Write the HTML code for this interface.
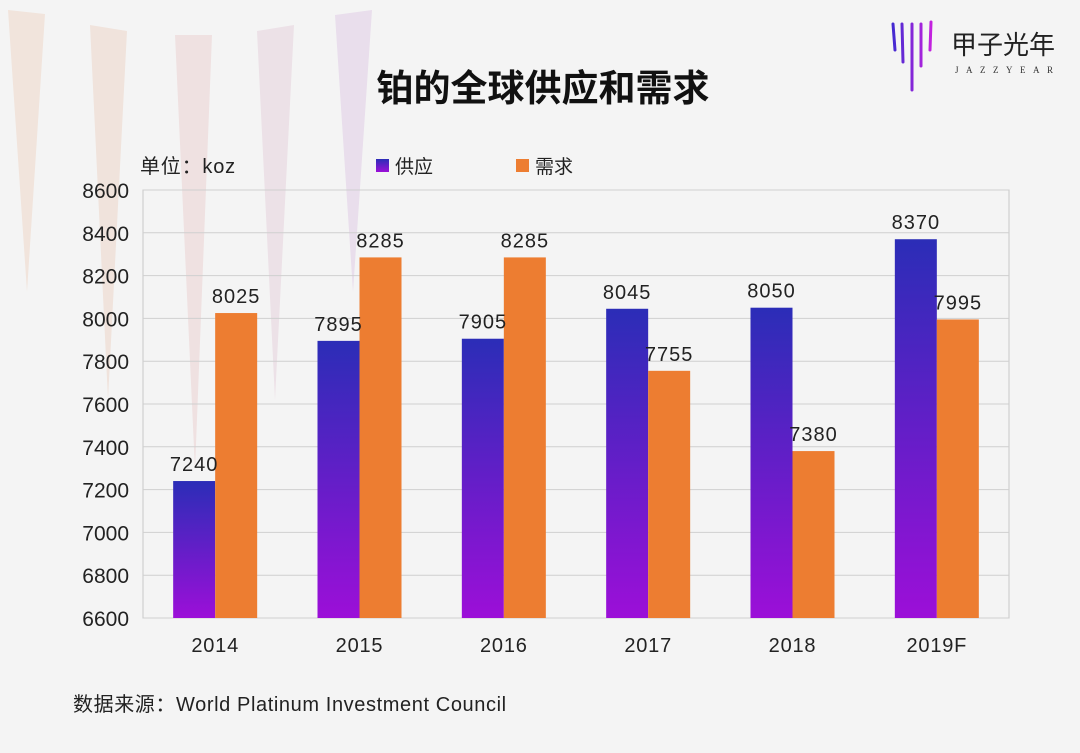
<!DOCTYPE html>
<html><head><meta charset="utf-8"><style>
body{margin:0;background:#fff}
#wrap{position:relative;width:1080px;height:753px;background:#f4f4f4;overflow:hidden;font-family:"Liberation Sans","Noto Sans CJK SC",sans-serif}
</style></head><body>
<div id="wrap">
<svg id="svg" width="1080" height="753">
  <defs>
    <linearGradient id="sg" x1="0" y1="0" x2="0" y2="1">
      <stop offset="0" stop-color="#2b2db7"/><stop offset="1" stop-color="#9c0fd8"/>
    </linearGradient>
    <linearGradient id="lg" gradientUnits="userSpaceOnUse" x1="890" y1="0" x2="935" y2="0">
      <stop offset="0" stop-color="#3a2bd0"/><stop offset="1" stop-color="#d020e0"/>
    </linearGradient>
  </defs>
  <g opacity="0.9">
    <polygon points="8,10 45,14 27,292" fill="#f1e3da"/>
    <polygon points="90,25 127,31 108,400" fill="#f0e2da"/>
    <polygon points="175,35 212,35 195,470" fill="#efdfe0"/>
    <polygon points="257,31 294,25 275,400" fill="#ecdfe6"/>
    <polygon points="335,15 372,10 353,292" fill="#e8dcec"/>
  </g>
  <text x="543" y="101" text-anchor="middle" font-size="37" font-weight="bold" fill="#111">铂的全球供应和需求</text>
  <g>
    <g stroke="url(#lg)" stroke-width="3" stroke-linecap="round">
      <line x1="893" y1="24" x2="895" y2="50"/><line x1="902" y1="24" x2="903" y2="62"/><line x1="912" y1="24" x2="912" y2="90"/><line x1="921" y1="24" x2="921" y2="66"/><line x1="931" y1="22" x2="930" y2="50"/>
    </g>
    <text x="951" y="54" font-size="26" fill="#222">甲子光年</text>
    <text x="955" y="73" font-size="9" fill="#333" letter-spacing="7.5" font-family="Liberation Serif,serif">JAZZYEAR</text>
  </g>
  <text x="140" y="173" font-size="20" fill="#222" letter-spacing="0.8">单位：koz</text>
  <g>
    <rect x="376" y="159" width="13" height="13" fill="url(#sg)"/>
    <text x="395" y="173" font-size="19" fill="#222">供应</text>
    <rect x="516" y="159" width="13" height="13" fill="#ed7d31"/>
    <text x="535" y="173" font-size="19" fill="#222">需求</text>
  </g>
  <g id="plot"></g>
  <text x="73" y="711" font-size="20" fill="#222" letter-spacing="0.6">数据来源：World Platinum Investment Council</text>
</svg>
</div>
<script>
const categories=["2014","2015","2016","2017","2018","2019F"];
const supply=[7240,7895,7905,8045,8050,8370];
const demand=[8025,8285,8285,7755,7380,7995];
const yTicks=[6600,6800,7000,7200,7400,7600,7800,8000,8200,8400,8600];
const NS="http://www.w3.org/2000/svg";
const L=143,R=1009,T=190,B=618,ymin=6600,ymax=8600;
const y=v=>B-(v-ymin)/(ymax-ymin)*(B-T);
const gw=(R-L)/categories.length;
const x=i=>L+gw*(i+0.5);
const plot=document.getElementById('plot');
function mk(tag,attrs,txt){const e=document.createElementNS(NS,tag);for(const k in attrs)e.setAttribute(k,attrs[k]);if(txt!=null)e.textContent=txt;plot.appendChild(e);return e;}
let bg=mk('rect',{x:L,y:T,width:R-L,height:B-T,fill:'none',stroke:'#c8c8c8'});


yTicks.forEach(t=>{
  let g=mk('line',{x1:L,x2:R,y1:y(t),y2:y(t),stroke:'#cfcfcf','stroke-width':1});
  
  
  let tl=mk('text',{x:129,y:y(t)+8,'text-anchor':'end','font-size':21,fill:'#222'},t);
  
  
});
const bw=42;
categories.forEach((c,i)=>{
  const cx=x(i);
  let b1=mk('rect',{x:cx-bw,y:y(supply[i]),width:bw,height:B-y(supply[i]),fill:'url(#sg)'});
  
  
  let b2=mk('rect',{x:cx,y:y(demand[i]),width:bw,height:B-y(demand[i]),fill:'#ed7d31'});
  
  
  let l1=mk('text',{x:cx-bw/2,y:y(supply[i])-10,'text-anchor':'middle','font-size':20,'letter-spacing':1,fill:'#222'},supply[i]);
  
  
  let l2=mk('text',{x:cx+bw/2,y:y(demand[i])-10,'text-anchor':'middle','font-size':20,'letter-spacing':1,fill:'#222'},demand[i]);
  
  
  let xl=mk('text',{x:cx,y:652,'text-anchor':'middle','font-size':20,'letter-spacing':0.8,fill:'#222'},c);
  
  
});
</script>
</body></html>
